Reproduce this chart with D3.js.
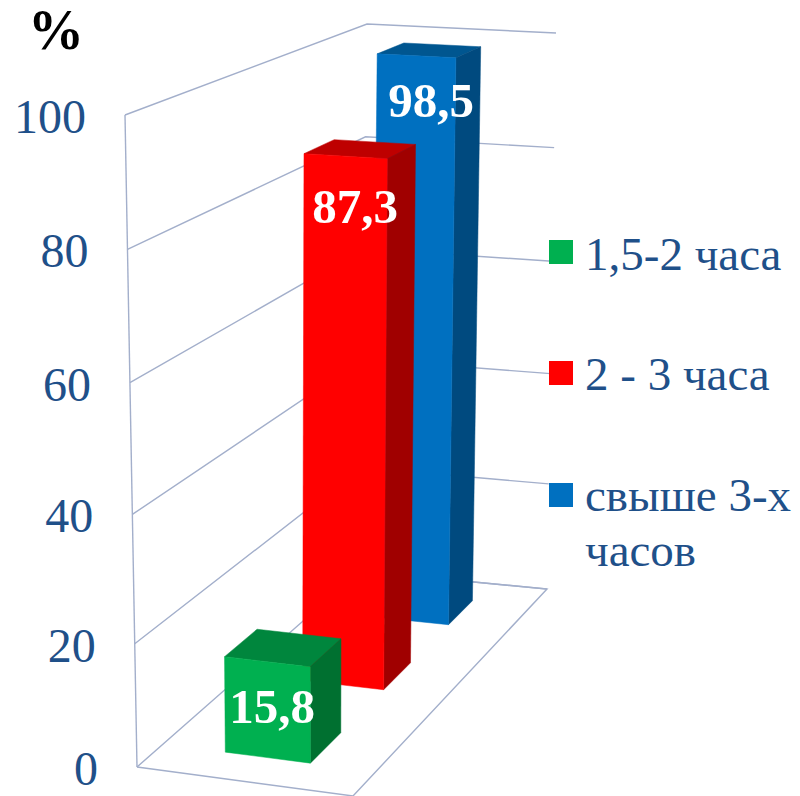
<!DOCTYPE html>
<html><head><meta charset="utf-8">
<script src="https://cdn.jsdelivr.net/npm/d3@7"></script>
<style>html,body{margin:0;padding:0;background:#fff}svg{display:block}text{font-family:"Liberation Serif",serif}</style>
</head><body><svg id="c" width="800" height="796"></svg>
<script>
const categories = ["1,5-2 часа", "2 - 3 часа", "свыше 3-х часов"];
const values = [15.8, 87.3, 98.5];
const valueLabels = ["15,8", "87,3", "98,5"];
const ticks = [0, 20, 40, 60, 80, 100];
const frontColors = ["#00B050", "#FF0000", "#0070C0"];
const topColors = ["#00863D", "#BE0000", "#005690"];
const sideColors = ["#007030", "#A00000", "#004A7F"];

const W = 800, H = 796;
const lineColor = "#a3afcb", textColor = "#1f5089";

// Corners of the drawn 3D box: front-left, front-right, back-right, back-left
const floorQuad = [[137,767],[353,796],[547,589],[360,571]];
const ceilQuad  = [[125,115],[353,128],[556,33],[367,24]];

function homography(q){
  const [[x0,y0],[x1,y1],[x2,y2],[x3,y3]] = q;
  const dx1=x1-x2, dx2=x3-x2, sx=x0-x1+x2-x3, dy1=y1-y2, dy2=y3-y2, sy=y0-y1+y2-y3;
  const den=dx1*dy2-dx2*dy1;
  const g=(sx*dy2-dx2*sy)/den, h=(dx1*sy-sx*dy1)/den;
  const a=x1-x0+g*x1, b=x3-x0+h*x3, d=y1-y0+g*y1, e=y3-y0+h*y3;
  return (u,v)=>{const w=g*u+h*v+1;return [(a*u+b*v+x0)/w,(d*u+e*v+y0)/w];};
}
const floorH = homography(floorQuad), ceilH = homography(ceilQuad);

const y = d3.scalePow().exponent(1.035).domain([0,100]).range([0,1]);
const depth = d3.scaleBand().domain(categories).range([0,1]).paddingInner(0.6).paddingOuter(0.3);
const across = d3.scaleBand().domain(["all"]).range([0,1]).paddingInner(0.6).paddingOuter(0.3);

function proj(u,v,val){
  const a=floorH(u,v), b=ceilH(u,v), t=y(val);
  return [a[0]+(b[0]-a[0])*t, a[1]+(b[1]-a[1])*t];
}

const svg = d3.select("#c");
const line = d3.line();
const grid = svg.append("g").attr("fill","none").attr("stroke",lineColor).attr("stroke-width",1.4);

// gridlines on both walls
grid.selectAll("path.g").data(ticks).join("path").attr("class","g")
  .attr("d",t=>line([proj(0,0,t),proj(0,1,t),proj(1,1,t)]));
// left edge
grid.append("path").attr("d",line([proj(0,0,0),proj(0,0,100)]));
// floor
grid.append("path").attr("d",line([proj(0,1,0),proj(1,1,0),proj(1,0,0),proj(0,0,0)]));

// bars, back to front
const u0 = across("all"), u1 = u0 + across.bandwidth();
const order = d3.range(categories.length).reverse();
const bars = svg.append("g").selectAll("g").data(order).join("g");
bars.each(function(i){
  const g = d3.select(this), v0 = depth(categories[i]), v1 = v0 + depth.bandwidth(), val = values[i];
  const faces = [
    {c:topColors[i], p:[proj(u0,v0,val),proj(u1,v0,val),proj(u1,v1,val),proj(u0,v1,val)]},
    {c:sideColors[i], p:[proj(u1,v0,0),proj(u1,v1,0),proj(u1,v1,val),proj(u1,v0,val)]},
    {c:frontColors[i], p:[proj(u0,v0,0),proj(u1,v0,0),proj(u1,v0,val),proj(u0,v0,val)]}
  ];
  g.selectAll("path").data(faces).join("path")
    .attr("d",f=>line(f.p)+"Z").attr("fill",f=>f.c).attr("stroke",f=>f.c).attr("stroke-width",0.5);
});

// value labels
const labelX = [272, 355, 431], labelDy = [66, 69, 63];
svg.append("g").selectAll("text").data(order).join("text")
  .attr("x",i=>labelX[i])
  .attr("y",i=>proj(u0,depth(categories[i]),values[i])[1]+labelDy[i])
  .attr("text-anchor","middle").attr("font-weight","bold").attr("font-size",49).attr("fill","#fff")
  .text(i=>valueLabels[i]);

// axis labels
svg.append("g").selectAll("text").data(ticks).join("text")
  .attr("x",t=>proj(0,0,t)[0]-39)
  .attr("y",t=>proj(0,0,t)[1]+18)
  .attr("text-anchor","end").attr("font-size",48).attr("fill",textColor).text(t=>t);

svg.append("text").attr("x",56).attr("y",49).attr("text-anchor","middle")
  .attr("font-weight","bold").attr("font-size",56).attr("fill","#000").text("%");

// legend
const legendTop = [240, 361, 483], legendBase = [270, 390, 511];
const legendLines = [["1,5-2 часа"],["2 - 3 часа"],["свыше 3-х","часов"]];
const leg = svg.append("g").selectAll("g").data(categories).join("g");
leg.append("rect").attr("x",549).attr("y",(d,i)=>legendTop[i]).attr("width",24).attr("height",24)
  .attr("fill",(d,i)=>frontColors[i]);
leg.each(function(d,i){
  d3.select(this).selectAll("text").data(legendLines[i]).join("text")
    .attr("x",585).attr("y",(s,k)=>legendBase[i]+k*55)
    .attr("font-size",47).attr("fill",textColor).text(s=>s);
});
</script></body></html>
